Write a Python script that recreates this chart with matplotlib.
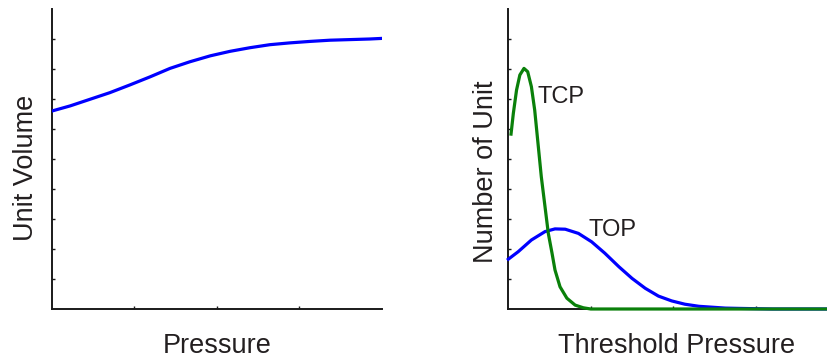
import numpy as np
import matplotlib.pyplot as plt

plt.rcParams['font.family'] = ['Liberation Sans', 'DejaVu Sans']

# unit volume vs pressure
pressure = [0.0, 0.22, 0.46, 0.70, 0.945, 1.19, 1.43, 1.67, 1.92, 2.16, 2.40,
            2.64, 2.88, 3.13, 3.37, 3.61, 3.85, 4.0]
unit_volume = [6.60, 6.77, 6.99, 7.21, 7.47, 7.74, 8.02, 8.24, 8.44, 8.59, 8.71,
               8.81, 8.87, 8.92, 8.96, 8.98, 9.0, 9.02]

# threshold distributions
tcp_x = [0.033, 0.061, 0.10, 0.14, 0.19, 0.235, 0.28, 0.32, 0.36, 0.40, 0.445,
         0.485, 0.53, 0.566, 0.627, 0.71, 0.81, 0.91, 1.0, 4.0]
tcp_y = [5.83, 6.52, 7.30, 7.80, 8.02, 7.91, 7.41, 6.63, 5.52, 4.41, 3.41,
         2.52, 1.86, 1.30, 0.74, 0.36, 0.13, 0.04, 0.0, 0.0]
top_x = [0.0, 0.12, 0.28, 0.445, 0.566, 0.69, 0.85, 1.01, 1.17, 1.34, 1.50,
         1.66, 1.82, 1.98, 2.14, 2.31, 2.47, 2.63, 2.8, 3.2, 4.0]
top_y = [1.66, 1.91, 2.30, 2.58, 2.67, 2.66, 2.52, 2.24, 1.86, 1.41, 1.02,
         0.69, 0.43, 0.27, 0.16, 0.09, 0.06, 0.03, 0.02, 0.0, 0.0]

txt = '#231f20'
blue = '#0000ff'
green = '#0a800a'

fig = plt.figure(figsize=(8.28, 3.58), dpi=100)
ax1 = fig.add_axes([52 / 828, 49 / 358, 330 / 828, 300 / 358])
ax2 = fig.add_axes([508.3 / 828, 49 / 358, 330 / 828, 300 / 358])


def style(ax):
    ax.set_xlim(0, 4)
    ax.set_ylim(0, 10)
    for s in ['top', 'right']:
        ax.spines[s].set_visible(False)
    for s in ['left', 'bottom']:
        ax.spines[s].set_linewidth(1.4)
        ax.spines[s].set_color('#1a1a1a')
    ax.set_xticks([1, 2, 3])
    ax.set_yticks(np.arange(1, 10))
    ax.set_xticklabels([])
    ax.set_yticklabels([])
    ax.tick_params(direction='in', length=2.5, width=1, color='#1a1a1a')


style(ax1)
style(ax2)

ax1.plot(pressure, unit_volume, color=blue, lw=2.3, zorder=3,
         solid_joinstyle='round')
ax1.text(0.5, -0.147, 'Pressure', transform=ax1.transAxes, ha='center',
         va='baseline', fontsize=19.5, color=txt)
ax1.text(-0.0567, 0.469, 'Unit Volume', transform=ax1.transAxes, ha='center',
         va='baseline', rotation=90, rotation_mode='anchor', fontsize=19.5, color=txt)

ax2.plot(top_x, top_y, color=blue, lw=2.3, zorder=3, clip_on=False,
         solid_joinstyle='round')
ax2.plot(tcp_x, tcp_y, color=green, lw=2.3, zorder=4, clip_on=False,
         solid_joinstyle='round')
ax2.text(0.36, 7.07, 'TCP', ha='left', va='center', fontsize=17, color=txt)
ax2.text(0.97, 2.63, 'TOP', ha='left', va='center', fontsize=17, color=txt)
ax2.text(0.51, -0.147, 'Threshold Pressure', transform=ax2.transAxes, ha='center',
         va='baseline', fontsize=19.5, color=txt)
ax2.text(-0.047, 0.458, 'Number of Unit', transform=ax2.transAxes, ha='center',
         va='baseline', rotation=90, rotation_mode='anchor', fontsize=19.5, color=txt)

fig.savefig('out.png', dpi=100)
